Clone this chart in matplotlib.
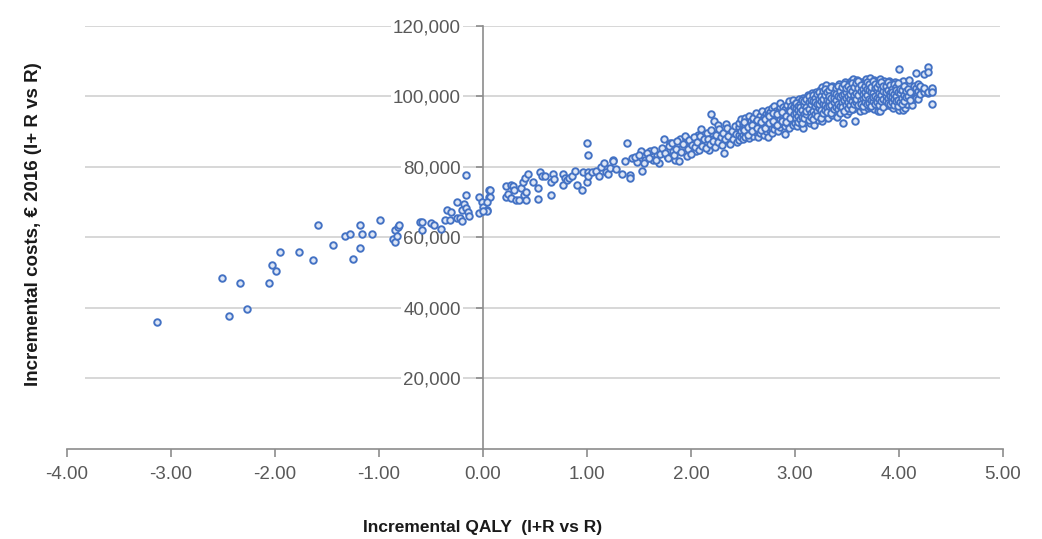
import numpy as np
import matplotlib
matplotlib.use("Agg")
import matplotlib.pyplot as plt
from matplotlib.ticker import FuncFormatter
from matplotlib import font_manager

# narrow Arial-like face if present, otherwise Liberation Sans
names = {f.name for f in font_manager.fontManager.ttflist}
base_font = 'Liberation Sans Narrow' if 'Liberation Sans Narrow' in names else 'Liberation Sans'
plt.rcParams['font.family'] = [base_font, 'DejaVu Sans']

# ---- data (QALY, cost in thousands of euro) ----
# sparse left tail
tail_qaly = [-3.13, -2.51, -2.44, -2.34, -2.27, -2.06, -2.03, -1.99, -1.95, -1.77,
             -1.63, -1.59, -1.44, -1.33, -1.28, -1.25, -1.18, -1.18, -1.16, -1.07,
             -0.99, -0.87, -0.85, -0.85, -0.83, -0.82, -0.81]
tail_cost = [36.1, 48.6, 37.6, 47.2, 39.6, 47.1, 52.1, 50.6, 56.0, 56.0,
             53.5, 63.4, 58.0, 60.4, 61.0, 54.0, 57.0, 63.4, 61.0, 61.0,
             65.0, 59.6, 58.6, 62.0, 60.4, 63.1, 63.6]

# around zero
near_qaly = [-0.61, -0.59, -0.59, -0.50, -0.47, -0.40, -0.37, -0.32, -0.35, -0.31,
             -0.25, -0.25, -0.22, -0.20, -0.20, -0.18, -0.16, -0.16, -0.16, -0.14,
             -0.13, -0.04, -0.04, -0.01, 0.00, 0.04, 0.06, 0.06, 0.07, 0.07,
             0.04, 0.04, 0.00]
near_cost = [64.4, 64.4, 62.0, 64.0, 63.6, 62.4, 65.0, 65.0, 67.9, 67.1,
             70.0, 65.4, 65.4, 64.8, 67.9, 69.5, 77.6, 72.0, 68.4, 67.1,
             66.0, 71.4, 67.0, 70.0, 68.6, 67.9, 73.6, 71.4, 73.5, 71.4,
             70.0, 67.6, 67.4]

# 0.2 - 1.5
mid_qaly = [0.22, 0.22, 0.24, 0.27, 0.27, 0.29, 0.30, 0.32, 0.35, 0.37,
            0.38, 0.39, 0.41, 0.40, 0.41, 0.43, 0.48, 0.53, 0.53, 0.55,
            0.57, 0.60, 0.65, 0.65, 0.67, 0.68, 0.77, 0.77, 0.79, 0.81,
            0.83, 0.86, 0.88, 0.90, 0.95, 0.96, 1.00, 1.01, 1.01, 1.00,
            1.01, 1.05, 1.09, 1.12, 1.13, 1.16, 1.18, 1.20, 1.22, 1.25,
            1.25, 1.28, 1.34, 1.37, 1.38, 1.41, 1.41, 1.43, 1.48, 1.52,
            1.53, 1.56]
mid_cost = [74.5, 71.4, 72.2, 75.0, 71.2, 74.5, 73.5, 70.5, 70.5, 74.0,
            75.7, 72.1, 73.0, 76.9, 70.5, 78.0, 75.7, 74.0, 71.0, 78.6,
            77.4, 77.4, 72.1, 75.7, 78.0, 76.6, 78.0, 75.0, 76.9, 76.4,
            76.9, 77.4, 78.8, 75.0, 73.5, 78.5, 86.9, 83.4, 78.5, 75.7,
            77.4, 78.5, 78.8, 77.4, 79.9, 81.2, 78.5, 78.0, 79.7, 81.9,
            81.6, 79.3, 78.0, 81.6, 86.9, 77.8, 76.9, 82.6, 81.3, 84.5,
            79.0, 82.1]

# 1.45 - 2.45
upper_qaly = [1.61, 1.63, 1.67, 1.69, 1.74, 1.77, 1.80, 1.83, 1.85, 1.88,
              1.89, 1.91, 1.95, 1.96, 1.99, 2.02, 2.05, 2.07, 2.10, 2.13,
              2.17, 2.19, 2.20, 2.22, 2.25, 2.26, 2.28, 2.33, 2.32, 2.34,
              2.36, 2.38, 2.44,
              1.46, 1.50, 1.55, 1.58, 1.60, 1.64, 1.66, 1.70, 1.72, 1.75,
              1.78, 1.79, 1.82, 1.84, 1.86, 1.87, 1.90, 1.92, 1.94, 1.97,
              1.98, 2.00, 2.01, 2.03, 2.04, 2.06, 2.08, 2.09, 2.11, 2.12,
              2.14, 2.15, 2.16, 2.18, 2.19, 2.21, 2.23, 2.24, 2.26, 2.27,
              2.29, 2.30, 2.31, 2.33, 2.35, 2.36, 2.37, 2.39, 2.40, 2.42,
              2.43, 2.44]
upper_cost = [84.5, 82.1, 83.5, 81.2, 88.0, 83.1, 86.9, 84.5, 82.1, 81.6,
              87.8, 85.4, 88.3, 83.1, 85.9, 87.3, 84.5, 89.2, 90.9, 86.9,
              84.9, 94.9, 89.7, 93.0, 88.3, 91.8, 87.3, 89.7, 84.0, 92.1,
              87.3, 88.7, 87.8,
              82.8, 83.5, 81.0, 83.9, 82.5, 84.8, 82.0, 83.6, 85.5, 84.0,
              82.6, 85.9, 86.8, 83.5, 85.2, 87.4, 84.3, 86.5, 88.8, 85.0,
              87.6, 83.8, 86.2, 88.4, 85.6, 87.0, 84.9, 88.9, 86.0, 87.9,
              85.3, 89.5, 88.0, 86.4, 90.4, 87.5, 85.8, 89.0, 87.0, 90.8,
              88.5, 86.2, 89.6, 87.8, 91.2, 88.9, 86.5, 90.1, 88.0, 91.5,
              89.3, 87.2]

# dense cloud 2.45 - 4.4, one row of costs per QALY value
core_qaly = [2.46, 2.48, 2.50, 2.52, 2.54, 2.56, 2.58, 2.60, 2.62, 2.64,
             2.66, 2.68, 2.70, 2.72, 2.74, 2.76, 2.78, 2.80, 2.82, 2.84,
             2.86, 2.88, 2.90, 2.92, 2.94, 2.96, 2.98, 3.00, 3.02, 3.04,
             3.06, 3.08, 3.10, 3.12, 3.14, 3.16, 3.18, 3.20, 3.22, 3.24,
             3.26, 3.28, 3.30, 3.32, 3.34, 3.36, 3.38, 3.40, 3.42, 3.44,
             3.46, 3.48, 3.50, 3.52, 3.54, 3.56, 3.58, 3.60, 3.62, 3.64,
             3.66, 3.68, 3.70, 3.72, 3.74, 3.76, 3.78, 3.80, 3.82, 3.84,
             3.86, 3.88, 3.90, 3.92, 3.94, 3.96, 3.98, 4.00, 4.02, 4.04,
             4.06, 4.08, 4.10, 4.12, 4.14, 4.16, 4.18, 4.20, 4.24, 4.28,
             4.32]
core_cost = [
    [89.0, 91.4, 87.6, 92.6], [90.2, 88.4, 93.5], [91.0, 89.2, 92.2, 87.9],
    [90.0, 93.8, 88.6, 91.6], [92.8, 89.8, 90.9], [88.3, 91.9, 94.5, 90.4],
    [93.1, 89.5, 91.2], [90.8, 92.5, 88.9, 94.0], [91.5, 89.9, 95.3, 92.9],
    [93.6, 90.3, 88.4], [91.8, 94.6, 89.6, 92.4], [93.3, 90.9, 95.8],
    [92.0, 89.0, 94.2, 91.3], [95.0, 92.7, 90.1, 93.8], [91.6, 96.2, 88.6, 94.7],
    [93.2, 90.5, 95.6, 92.3], [94.1, 91.0, 96.8, 89.7], [92.9, 95.2, 90.8, 93.9, 97.2],
    [94.6, 91.8, 96.0, 93.0], [95.7, 92.5, 90.1, 94.2], [93.6, 96.9, 91.4, 95.0, 98.2],
    [94.8, 92.2, 97.1, 93.3], [95.9, 91.6, 94.0, 96.5, 89.4], [93.7, 97.6, 92.4, 95.3],
    [96.2, 94.4, 91.1, 98.6, 93.0], [95.1, 97.3, 92.8, 94.9], [93.6, 96.6, 91.9, 95.8, 99.1],
    [94.5, 97.9, 92.6, 96.1, 93.8], [95.4, 98.4, 91.5, 94.2, 97.0], [96.6, 93.1, 99.3, 95.0],
    [94.0, 97.5, 92.3, 96.0, 98.7], [95.7, 93.4, 99.6, 97.1, 91.2], [96.9, 94.6, 98.1, 92.8, 95.5],
    [97.8, 95.1, 100.4, 93.7, 96.3], [94.4, 98.6, 96.8, 92.4, 99.5], [97.3, 95.8, 100.9, 93.9, 98.0],
    [96.2, 99.2, 94.7, 97.6, 92.0], [98.4, 95.3, 101.3, 96.9, 94.1, 99.8], [97.0, 100.1, 95.6, 93.3, 98.7],
    [99.0, 96.4, 101.9, 94.8, 97.8], [95.7, 98.3, 100.6, 93.0, 97.1, 102.6], [99.6, 96.8, 94.5, 98.9, 101.1],
    [97.4, 100.3, 95.2, 98.1, 103.2, 96.0], [99.3, 101.7, 94.0, 97.7, 100.8], [98.5, 96.1, 102.4, 99.9, 95.4],
    [100.6, 97.2, 98.8, 103.0, 94.7, 101.4], [96.7, 99.5, 101.9, 98.2, 95.9], [100.0, 97.9, 102.8, 96.5, 99.2, 94.3],
    [98.6, 101.2, 96.9, 100.5, 103.6], [97.5, 99.8, 102.1, 95.8, 98.9, 101.0], [100.9, 96.3, 99.4, 103.3, 98.0, 92.6],
    [99.1, 101.8, 97.3, 100.2, 104.0, 95.5], [98.3, 102.5, 96.8, 100.7, 99.6, 94.9], [101.3, 97.6, 99.9, 103.7, 98.6, 96.0],
    [100.4, 102.9, 97.1, 99.0, 101.7, 104.4], [98.1, 100.8, 96.5, 102.2, 99.5, 105.0], [101.5, 97.8, 103.5, 100.0, 93.0, 98.7],
    [99.3, 102.0, 96.9, 100.9, 104.7, 98.2], [100.6, 97.4, 103.0, 99.8, 101.9, 95.8], [102.6, 98.9, 100.2, 104.1, 97.0, 101.4],
    [99.6, 103.8, 98.0, 101.1, 96.2, 100.5], [101.8, 99.1, 104.9, 97.7, 102.9, 100.0], [98.6, 101.0, 103.4, 99.7, 96.6, 102.3],
    [100.8, 105.3, 98.3, 101.9, 99.4, 97.1], [102.7, 99.9, 103.9, 97.9, 101.2, 100.4], [99.2, 101.6, 104.6, 98.5, 102.4, 96.4],
    [101.0, 103.2, 99.7, 100.3, 97.6, 104.2], [102.1, 98.8, 100.7, 103.8, 99.5, 96.0], [100.0, 102.8, 97.2, 101.5, 104.9, 95.8],
    [101.9, 99.3, 103.3, 98.1, 100.6], [100.8, 102.6, 97.8, 104.3, 99.8], [99.0, 101.4, 103.7, 100.3, 97.5],
    [102.3, 98.6, 100.9, 104.4, 99.6], [100.1, 102.9, 97.3, 101.6, 98.9], [101.2, 99.4, 103.6, 100.4, 96.8],
    [98.3, 102.0, 100.8, 104.0, 99.1], [101.5, 99.8, 103.0, 97.9], [100.2, 102.4, 98.7, 101.1, 96.3, 107.9],
    [99.5, 103.3, 101.0, 97.6], [100.6, 102.2, 98.4, 104.5, 96.3], [101.8, 99.2, 103.1, 96.6],
    [100.0, 102.7, 98.0, 97.9], [101.4, 99.0, 103.6, 104.8], [100.3, 102.1, 97.7],
    [101.0, 103.0, 99.4, 101.1], [100.1, 102.5, 106.7, 99.6], [101.6, 99.3, 103.6],
    [100.6, 102.8, 102.9], [101.2, 106.3, 102.5], [100.9, 108.3, 107.0, 101.3],
    [101.8, 102.5, 97.9, 101.3]]

# extra points filling the gaps of the dense cloud
fill_qaly = [2.51, 2.55, 2.59, 2.63, 2.67, 2.71, 2.75, 2.79, 2.83, 2.87,
             2.91, 2.95, 2.99,
             3.01, 3.03, 3.05, 3.07, 3.09, 3.11, 3.13, 3.15, 3.17, 3.19,
             3.21, 3.23, 3.25, 3.27, 3.29, 3.31, 3.33, 3.35, 3.37, 3.39,
             3.41, 3.43, 3.45, 3.47, 3.49, 3.51, 3.53, 3.55, 3.57, 3.59,
             3.61, 3.63, 3.65, 3.67, 3.69, 3.71, 3.73, 3.75, 3.77, 3.79,
             3.81, 3.83, 3.85, 3.87, 3.89, 3.91, 3.93, 3.95, 3.97, 3.99,
             4.01, 4.03, 4.05, 4.07, 4.09, 4.11]
fill_cost = [
    [90.6, 92.9], [91.3, 89.0], [92.0, 90.2], [91.0, 93.4], [92.8, 90.6],
    [93.5, 91.1], [92.6, 94.4], [93.1, 95.3], [92.0, 94.9], [95.6, 93.0],
    [94.6, 92.9], [96.0, 93.9], [94.9, 97.0],
    [96.8, 93.9, 98.1, 95.2], [94.6, 97.4, 92.9, 96.3], [98.0, 95.6, 93.5, 97.0],
    [96.1, 99.0, 94.3, 92.5], [97.6, 95.0, 98.8, 93.8], [94.9, 97.1, 99.4, 96.0],
    [98.3, 96.5, 93.2, 100.0], [95.4, 97.9, 99.1, 94.2], [98.8, 96.0, 93.6, 100.5],
    [97.2, 99.6, 95.1, 98.4], [95.9, 98.0, 100.8, 94.4], [99.3, 96.7, 97.9, 101.4],
    [96.3, 100.2, 98.6, 94.0], [98.0, 95.3, 101.5, 99.4], [100.4, 97.5, 96.1, 102.2],
    [96.9, 99.0, 101.2, 95.6], [98.8, 101.9, 97.2, 100.0], [97.6, 99.7, 102.8, 95.2],
    [101.0, 98.3, 96.5, 99.6], [99.0, 102.3, 97.0, 100.6], [96.4, 100.0, 98.0, 103.1],
    [99.8, 97.3, 101.6, 95.4], [98.4, 102.7, 100.3, 97.0], [100.8, 98.9, 96.0, 103.6],
    [97.7, 101.2, 99.6, 102.4], [100.1, 96.6, 103.0, 98.5], [99.2, 102.0, 97.5, 100.6],
    [101.6, 98.8, 103.9, 96.4], [99.9, 102.6, 97.9, 100.4], [98.3, 101.1, 103.8, 99.2],
    [100.3, 97.6, 102.4, 104.5], [99.0, 101.5, 98.0, 103.3], [102.0, 99.6, 97.2, 100.8],
    [98.5, 103.0, 101.2, 99.9], [100.5, 97.8, 104.0, 102.1], [99.4, 101.8, 98.2, 103.6],
    [101.4, 99.0, 102.6, 97.4], [98.8, 100.9, 104.3, 99.9], [102.3, 100.1, 97.9, 103.5],
    [99.6, 101.7, 98.4, 102.8], [101.1, 103.4, 99.2, 97.6], [98.7, 100.4, 102.0, 104.0],
    [101.6, 99.4, 97.1, 103.0], [100.2, 102.9, 98.6, 101.3], [99.5, 101.9, 104.1, 98.1],
    [101.0, 97.9, 103.2, 100.0], [99.9, 102.1, 98.5, 101.4], [100.7, 103.4, 97.6, 99.2],
    [102.6, 100.0, 98.7, 101.8], [99.0, 101.3, 103.8, 97.2],
    [100.9, 98.4, 102.2], [101.7, 99.7, 97.8], [100.4, 102.9, 98.6],
    [99.8, 101.5], [102.0, 100.2], [99.1, 101.3]]

# flatten everything into one pair of arrays
all_qaly = tail_qaly + near_qaly + mid_qaly + upper_qaly
all_cost = tail_cost + near_cost + mid_cost + upper_cost
for q_list, c_rows in [(core_qaly, core_cost), (fill_qaly, fill_cost)]:
    for q, row in zip(q_list, c_rows):
        all_qaly += [q] * len(row)
        all_cost += row
all_qaly = np.array(all_qaly)
all_cost = np.array(all_cost) * 1000

x_ticks = [-4, -3, -2, -1, 0, 1, 2, 3, 4, 5]
y_ticks = [20000, 40000, 60000, 80000, 100000, 120000]

# ---- figure ----
fig = plt.figure(figsize=(10.42, 5.39), dpi=100)
ax = fig.add_axes([0.0643, 0.167, 0.8983, 0.7848])

ax.set_xlim(-4, 5)
ax.set_ylim(0, 120000)

# gridlines do not span the whole axis in the original
ax.hlines(y_ticks, -3.83, 4.97, colors='#d4d4d4', linewidth=1.3, zorder=0)

ax.scatter(all_qaly, all_cost, s=22, facecolor='#dfe7f6', edgecolor='#4472c4',
           linewidth=1.4, zorder=3, clip_on=False)

# axes crossing at the origin
for side in ['top', 'right']:
    ax.spines[side].set_visible(False)
ax.spines['left'].set_position(('data', 0))
ax.spines['bottom'].set_position(('data', 0))
for side in ['left', 'bottom']:
    ax.spines[side].set_color('#8c8c8c')
    ax.spines[side].set_linewidth(1.2)
ax.spines['left'].set_zorder(2)

ax.set_xticks(x_ticks)
ax.set_yticks(y_ticks)
ax.xaxis.set_major_formatter(FuncFormatter(lambda v, p: f'{v:.2f}'))
ax.yaxis.set_major_formatter(FuncFormatter(lambda v, p: f'{v:,.0f}'))
ax.tick_params(axis='x', direction='out', length=6, width=1.2, color='#8c8c8c',
               labelsize=13.5, labelcolor='#595959', pad=6)
ax.tick_params(axis='y', direction='out', length=5, width=1.2, color='#8c8c8c',
               labelsize=13.5, labelcolor='#595959', pad=11)
for t in ax.get_yticklabels():
    t.set_bbox(dict(facecolor='white', edgecolor='none', pad=1.5))
    t.set_zorder(1)

fig.text(0.4635, 0.021, 'Incremental QALY  (I+R vs R)', ha='center', va='center',
         fontsize=12.5, fontweight='bold', color='#1a1a1a')
fig.text(0.032, 0.585, 'Incremental costs, \u20ac 2016 (I+ R vs R)', ha='center', va='center',
         rotation=90, fontsize=13.5, fontweight='bold', color='#1a1a1a')

fig.savefig('out.png', dpi=100)
